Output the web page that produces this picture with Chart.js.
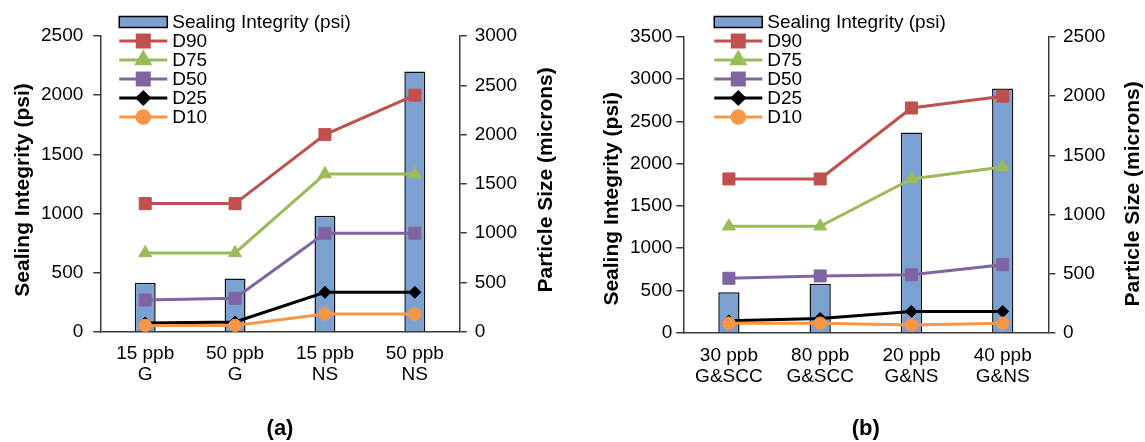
<!DOCTYPE html>
<html>
<head>
<meta charset="utf-8">
<script src="https://cdn.jsdelivr.net/npm/chart.js@4.4.1/dist/chart.umd.min.js"></script>
<style>
  body { margin: 0; background: #fff; }
  #wrap { position: relative; width: 1145px; height: 442px; }
  .box { position: absolute; top: 0; height: 442px; }
</style>
</head>
<body>
<div id="wrap">
  <div class="box" style="left:0;width:572px"><canvas id="chartA"></canvas></div>
  <div class="box" style="left:572px;width:573px"><canvas id="chartB"></canvas></div>
</div>
<script>
// panel (a)
const labelsA = [['15 ppb', 'G'], ['50 ppb', 'G'], ['15 ppb', 'NS'], ['50 ppb', 'NS']];
const sealA = [415, 450, 980, 2200];
const d90A = [1300, 1300, 2000, 2400];
const d75A = [800, 800, 1600, 1600];
const d50A = [322, 340, 1000, 1000];
const d25A = [90, 100, 400, 400];
const d10A = [65, 65, 180, 180];

// panel (b)
const labelsB = [['30 ppb', 'G&SCC'], ['80 ppb', 'G&SCC'], ['20 ppb', 'G&NS'], ['40 ppb', 'G&NS']];
const sealB = [480, 580, 2370, 2890];
const d90B = [1300, 1300, 1900, 2000];
const d75B = [900, 900, 1300, 1400];
const d50B = [460, 480, 490, 575];
const d25B = [100, 120, 180, 180];
const d10B = [80, 80, 65, 80];

const FONT = "'Liberation Sans', Arial, sans-serif";
Chart.defaults.font.family = FONT;
Chart.defaults.color = '#000';

const AXIS = '#3a3a3a';

// legend inside the plot plus the two vertical axis titles (both read bottom-to-top)
const legendBox = {
  id: 'legendBox',
  afterDatasetsDraw(chart, args, opts) {
    const ctx = chart.ctx;
    const area = chart.chartArea;
    const x0 = area.left + opts.x;
    ctx.save();
    ctx.font = '19px ' + FONT;
    ctx.textBaseline = 'middle';
    chart.data.datasets.forEach((ds, i) => {
      const y = opts.y + i * opts.gap;
      if (ds.type === 'line') {
        ctx.strokeStyle = ds.borderColor;
        ctx.lineWidth = 3;
        ctx.beginPath();
        ctx.moveTo(x0, y);
        ctx.lineTo(x0 + 48, y);
        ctx.stroke();
        ctx.fillStyle = ds.backgroundColor;
        Chart.helpers.drawPoint(ctx, {
          pointStyle: ds.pointStyle, radius: ds.pointRadius, borderWidth: 1, rotation: 0
        }, x0 + 24, y);
      } else {
        ctx.fillStyle = ds.backgroundColor;
        ctx.fillRect(x0, y - 5.5, 48, 11);
        ctx.strokeStyle = '#000';
        ctx.lineWidth = 1.5;
        ctx.strokeRect(x0, y - 5.5, 48, 11);
      }
      ctx.fillStyle = '#000';
      ctx.fillText(ds.label, x0 + 53, y + 1);
    });

    const midY = (area.top + area.bottom) / 2;
    ctx.font = 'bold 21px ' + FONT;
    ctx.textAlign = 'center';
    opts.titles.forEach(t => {
      ctx.save();
      ctx.translate(t.x, midY + t.dy);
      ctx.rotate(-Math.PI / 2);
      ctx.fillText(t.text, 0, 0);
      ctx.restore();
    });
    ctx.restore();
  }
};

function lineSet(label, data, color, style, r, order) {
  return {
    type: 'line', label, data, yAxisID: 'y1', order,
    borderColor: color, backgroundColor: color, borderWidth: 3,
    pointStyle: style, pointRadius: r, pointBorderWidth: 1,
    pointBackgroundColor: color, pointBorderColor: color, tension: 0
  };
}

function makeChart(id, labels, seal, d90, d75, d50, d25, d10, cfg) {
  const ctx = document.getElementById(id).getContext('2d');
  return new Chart(ctx, {
    type: 'bar',
    data: {
      labels,
      datasets: [
        { type: 'bar', label: 'Sealing Integrity (psi)', data: seal, yAxisID: 'y', order: 10,
          backgroundColor: '#7ba1d0', borderColor: '#111', borderWidth: 1.5,
          barPercentage: 0.233, categoryPercentage: 1 },
        lineSet('D90', d90, '#c0504d', 'rect', 8.5, 5),
        lineSet('D75', d75, '#9bbb59', 'triangle', 7.5, 4),
        lineSet('D50', d50, '#8064a2', 'rect', 8.5, 3),
        lineSet('D25', d25, '#000000', 'rectRot', 6, 2),
        lineSet('D10', d10, '#f79646', 'circle', 6.3, 1)
      ]
    },
    options: {
      responsive: true,
      maintainAspectRatio: false,
      animation: false,
      layout: { padding: cfg.padding },
      plugins: {
        legend: { display: false },
        tooltip: { enabled: false },
        legendBox: {
          x: cfg.legendX, y: 22, gap: 19,
          titles: [
            { text: 'Sealing Integrity (psi)', x: cfg.leftTitleX, dy: cfg.leftTitleDy },
            { text: 'Particle Size (microns)', x: cfg.rightTitleX, dy: cfg.rightTitleDy }
          ]
        }
      },
      scales: {
        x: {
          grid: { display: true, drawOnChartArea: false, drawTicks: false },
          border: { color: AXIS, width: 1.5 },
          ticks: { font: { size: 19, lineHeight: 1.1 }, padding: cfg.xPad, maxRotation: 0 },
          title: { display: true, text: cfg.name, font: { size: 22, weight: 'bold', lineHeight: 1.2 },
                   padding: { top: cfg.namePad, bottom: 0 } }
        },
        y: {
          position: 'left', min: 0, max: cfg.leftMax,
          grid: { drawOnChartArea: false, tickLength: 7, color: AXIS, lineWidth: 1.5 },
          border: { color: AXIS, width: 1.5 },
          ticks: { stepSize: 500, font: { size: 19 }, padding: cfg.leftTickPad, callback: v => String(v) }
        },
        y1: {
          position: 'right', min: 0, max: cfg.rightMax,
          grid: { drawOnChartArea: false, tickLength: 7, color: AXIS, lineWidth: 1.5 },
          border: { color: AXIS, width: 1.5 },
          ticks: { stepSize: 500, font: { size: 19 }, padding: cfg.rightTickPad, callback: v => String(v) }
        }
      }
    },
    plugins: [legendBox]
  });
}

makeChart('chartA', labelsA, sealA, d90A, d75A, d50A, d25A, d10A, {
  name: '(a)', leftMax: 2500, rightMax: 3000, legendX: 19,
  padding: { left: 31, right: 47, top: 36, bottom: 0 },
  xPad: 11.5, namePad: 19,
  leftTickPad: 10, rightTickPad: 8,
  leftTitleX: 23, leftTitleDy: 6, rightTitleX: 546, rightTitleDy: -4
});

makeChart('chartB', labelsB, sealB, d90B, d75B, d50B, d25B, d10B, {
  name: '(b)', leftMax: 3500, rightMax: 2500, legendX: 31,
  padding: { left: 54, right: 32, top: 37, bottom: 0 },
  xPad: 12.8, namePad: 15.5,
  leftTickPad: 4, rightTickPad: 7.7,
  leftTitleX: 40, leftTitleDy: 14, rightTitleX: 561, rightTitleDy: 9
});
</script>
</body>
</html>
